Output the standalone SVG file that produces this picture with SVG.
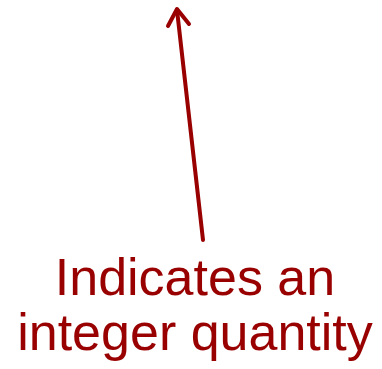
<svg xmlns="http://www.w3.org/2000/svg" width="382" height="369" viewBox="0 0 382 369">
<style>
.c{stroke:#990000;stroke-width:4;fill:none;stroke-linecap:round;stroke-linejoin:round}
.t{font-family:"Liberation Sans",Arial,sans-serif;font-size:52px;fill:#990000;text-anchor:middle}
</style>
<g id="connectors">
<path class="c" d="M203,240 L177,10"/>
<path class="c" d="M168,26 L177,9 L189,24"/>
</g>
<g id="label">
<text class="t" x="195" y="295">Indicates an</text>
<text class="t" x="195" y="350">integer quantity</text>
</g>
</svg>
